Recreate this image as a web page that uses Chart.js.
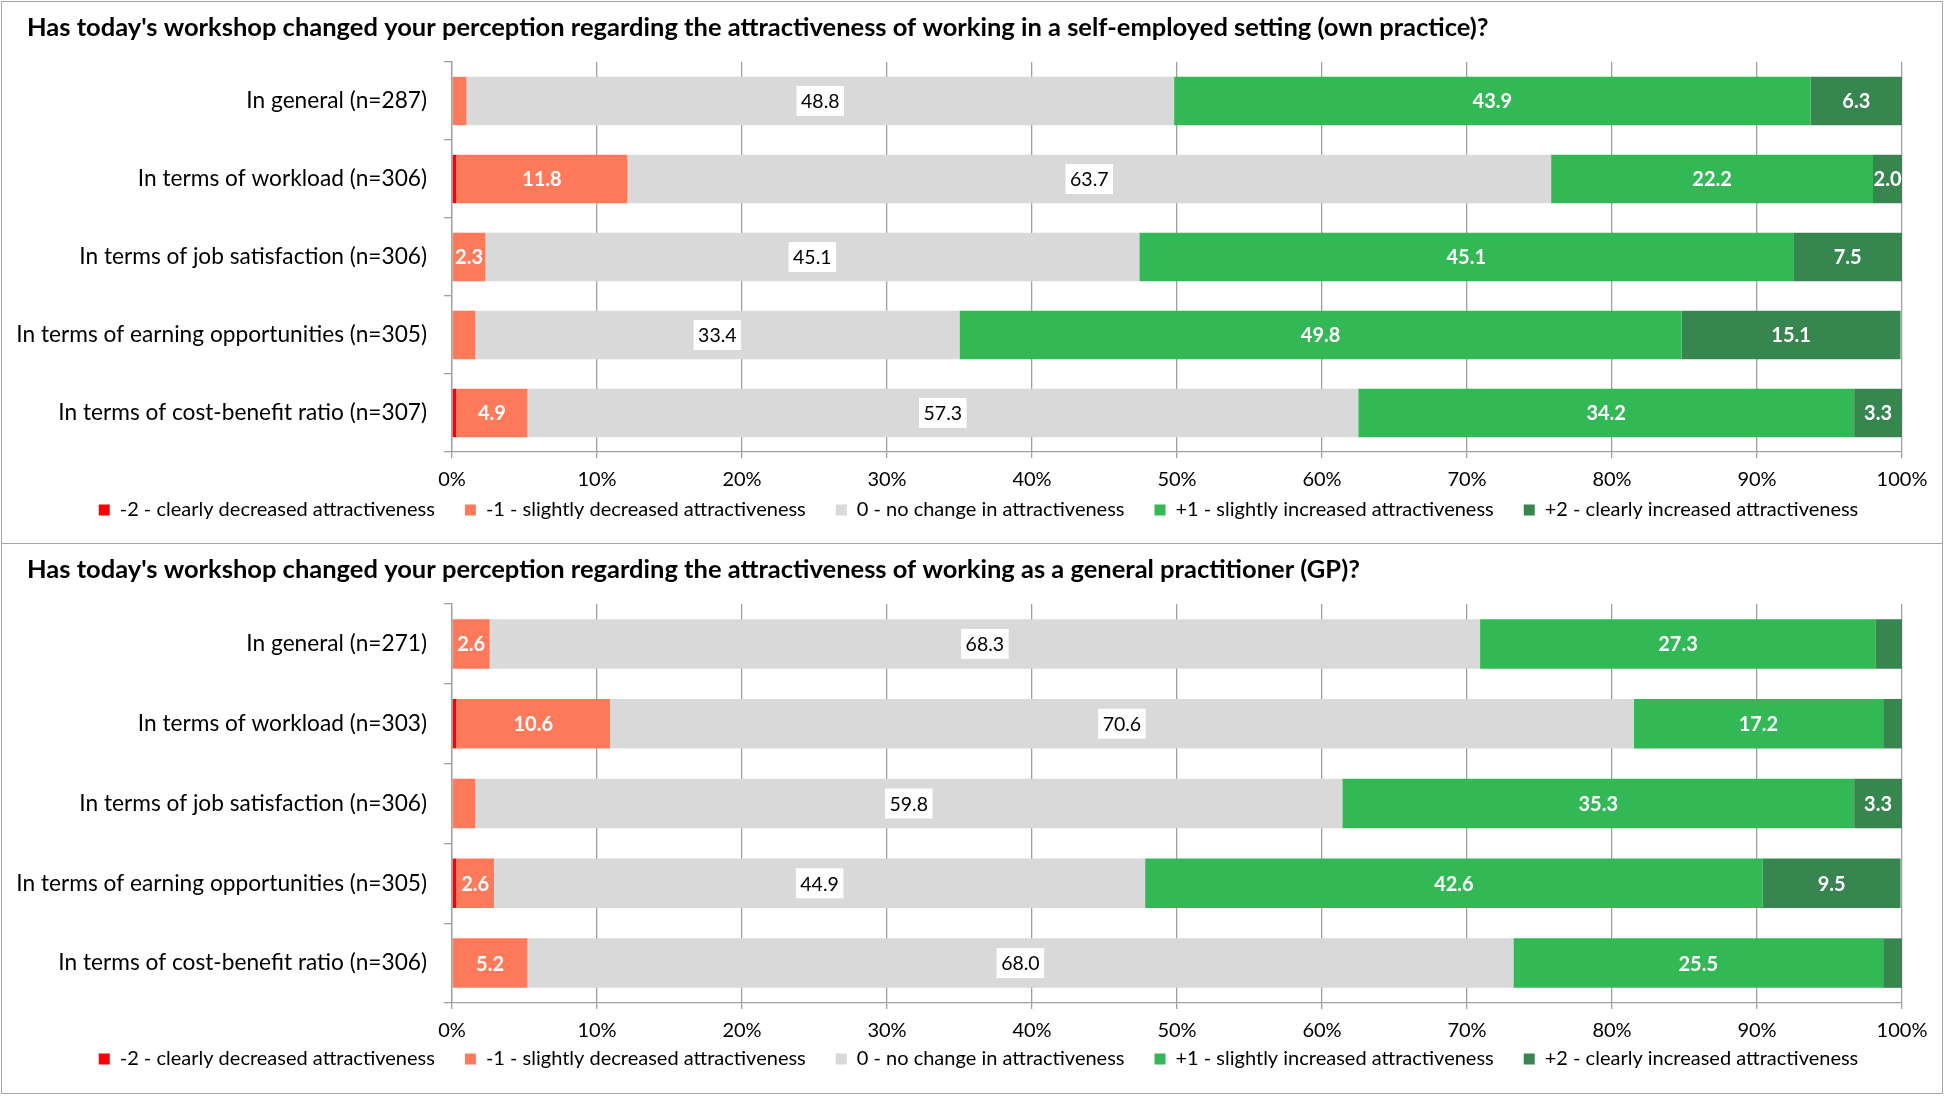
<!DOCTYPE html>
<html>
<head>
<meta charset="utf-8">
<script src="https://cdn.jsdelivr.net/npm/chart.js@4.4.1/dist/chart.umd.min.js"></script>
<style>
  body { margin: 0; background: #fff; width: 1944px; height: 1096px; position: relative; overflow: hidden; }
  .panel { position: absolute; left: 1px; width: 1940px; border: 1px solid #a6a6a6; background: #fff; }
  #p1 { top: 1px; height: 541px; }
  #p2 { top: 543px; height: 549px; }
  canvas { display: block; }
</style>
</head>
<body>
<div class="panel" id="p1"><canvas id="chartTop" width="1940" height="541"></canvas></div>
<div class="panel" id="p2"><canvas id="chartBottom" width="1940" height="549"></canvas></div>
<script>
// DATA
const titleTop = "Has today's workshop changed your perception regarding the attractiveness of working in a self-employed setting (own practice)?";
const titleBottom = "Has today's workshop changed your perception regarding the attractiveness of working as a general practitioner (GP)?";

const categoriesTop = ['In general (n=287)', 'In terms of workload (n=306)', 'In terms of job satisfaction (n=306)', 'In terms of earning opportunities (n=305)', 'In terms of cost-benefit ratio (n=307)'];
const categoriesBottom = ['In general (n=271)', 'In terms of workload (n=303)', 'In terms of job satisfaction (n=306)', 'In terms of earning opportunities (n=305)', 'In terms of cost-benefit ratio (n=306)'];

const seriesNames = ['-2 - clearly decreased attractiveness', '-1 - slightly decreased attractiveness', '0 - no change in attractiveness', '+1 - slightly increased attractiveness', '+2 - clearly increased attractiveness'];
const seriesColors = ['#ff0000', '#ff7a5a', '#d9d9d9', '#33b856', '#37854f'];

// top chart (own practice), percent
const clearlyDecTop  = [0, 0.3, 0, 0, 0.3];
const slightlyDecTop = [1.0, 11.8, 2.3, 1.6, 4.9];
const noChangeTop    = [48.8, 63.7, 45.1, 33.4, 57.3];
const slightlyIncTop = [43.9, 22.2, 45.1, 49.8, 34.2];
const clearlyIncTop  = [6.3, 2.0, 7.5, 15.1, 3.3];

// bottom chart (GP), percent
const clearlyDecBottom  = [0, 0.3, 0, 0.3, 0];
const slightlyDecBottom = [2.6, 10.6, 1.6, 2.6, 5.2];
const noChangeBottom    = [68.3, 70.6, 59.8, 44.9, 68.0];
const slightlyIncBottom = [27.3, 17.2, 35.3, 42.6, 25.5];
const clearlyIncBottom  = [1.8, 1.3, 3.3, 9.5, 1.3];

const xTicks = [0, 10, 20, 30, 40, 50, 60, 70, 80, 90, 100];

const FONT = 'Lato, "Open Sans", sans-serif';

// value labels drawn in the middle of each segment
const segmentLabels = {
    id: 'segmentLabels',
    afterLayout(chart) {
        // nudge the legend a little to the right, like the original
        chart.legend.left += 14;
        chart.legend.right += 14;
    },
    afterDatasetsDraw(chart) {
        const ctx = chart.ctx;
        ctx.save();
        ctx.textAlign = 'center';
        ctx.textBaseline = 'middle';
        chart.data.datasets.forEach(function(ds, i) {
            const meta = chart.getDatasetMeta(i);
            meta.data.forEach(function(bar, j) {
                const v = ds.data[j];
                if (v < 2) return;
                const txt = v.toFixed(1);
                const x = (bar.x + bar.base) / 2;
                const y = bar.y;
                if (i == 2) {
                    ctx.font = '19.5px ' + FONT;
                    const w = ctx.measureText(txt).width + 9;
                    ctx.fillStyle = '#ffffff';
                    ctx.fillRect(x - w / 2, y - 15, w, 30);
                    ctx.fillStyle = '#000000';
                } else {
                    ctx.font = 'bold 20px ' + FONT;
                    ctx.fillStyle = '#ffffff';
                }
                ctx.fillText(txt, x, y + 1);
            });
        });
        ctx.restore();
    }
};

// tick labels may spill outside their scale box
function noLabelClip(scale) {
    scale._computeLabelArea = function() { return null; };
}

function makeChart(id, title, categories, series, xHeight, bottomPad) {
    const datasets = series.map(function(values, i) {
        return {
            label: seriesNames[i],
            data: values,
            backgroundColor: seriesColors[i],
            borderWidth: 0,
            barPercentage: 0.62,
            categoryPercentage: 1
        };
    });

    return new Chart(document.getElementById(id), {
        type: 'bar',
        data: { labels: categories, datasets: datasets },
        plugins: [segmentLabels],
        options: {
            indexAxis: 'y',
            responsive: false,
            animation: false,
            layout: { padding: { left: 25, right: 40, top: 0, bottom: bottomPad } },
            plugins: {
                title: {
                    display: true,
                    text: title,
                    align: 'start',
                    color: '#000',
                    font: { family: FONT, size: 25.5, weight: 'bold', lineHeight: 1.2 },
                    padding: { top: 10, bottom: 19.4 }
                },
                legend: {
                    position: 'bottom',
                    labels: {
                        color: '#000',
                        font: { family: FONT, size: 20 },
                        boxWidth: 11,
                        boxHeight: 11,
                        padding: 30
                    }
                },
                tooltip: { enabled: false }
            },
            scales: {
                x: {
                    stacked: true,
                    min: 0,
                    max: 100,
                    afterBuildTicks: function(scale) {
                        scale.ticks = xTicks.map(function(v) { return { value: v }; });
                    },
                    afterFit: function(scale) { scale.height = xHeight; noLabelClip(scale); },
                    ticks: {
                        color: '#000',
                        font: { family: FONT, size: 20 },
                        padding: 10,
                        maxRotation: 0,
                        autoSkip: false,
                        callback: function(v) { return v + '%'; }
                    },
                    grid: { color: '#a0a0a0', tickLength: 6, lineWidth: 1.3 },
                    border: { color: '#a0a0a0', width: 1.3 }
                },
                y: {
                    stacked: true,
                    afterFit: function(scale) { scale.width = 425; noLabelClip(scale); },
                    ticks: {
                        color: '#000',
                        font: { family: FONT, size: 22.7 },
                        padding: 17
                    },
                    grid: { offset: true, drawOnChartArea: false, tickLength: 8, color: '#a0a0a0', lineWidth: 1.3 },
                    border: { color: '#a0a0a0', width: 1.3 }
                }
            }
        }
    });
}

makeChart('chartTop', titleTop, categoriesTop,
    [clearlyDecTop, slightlyDecTop, noChangeTop, slightlyIncTop, clearlyIncTop], 18, 13);
makeChart('chartBottom', titleBottom, categoriesBottom,
    [clearlyDecBottom, slightlyDecBottom, noChangeBottom, slightlyIncBottom, clearlyIncBottom], 16, 14);
</script>
</body>
</html>
